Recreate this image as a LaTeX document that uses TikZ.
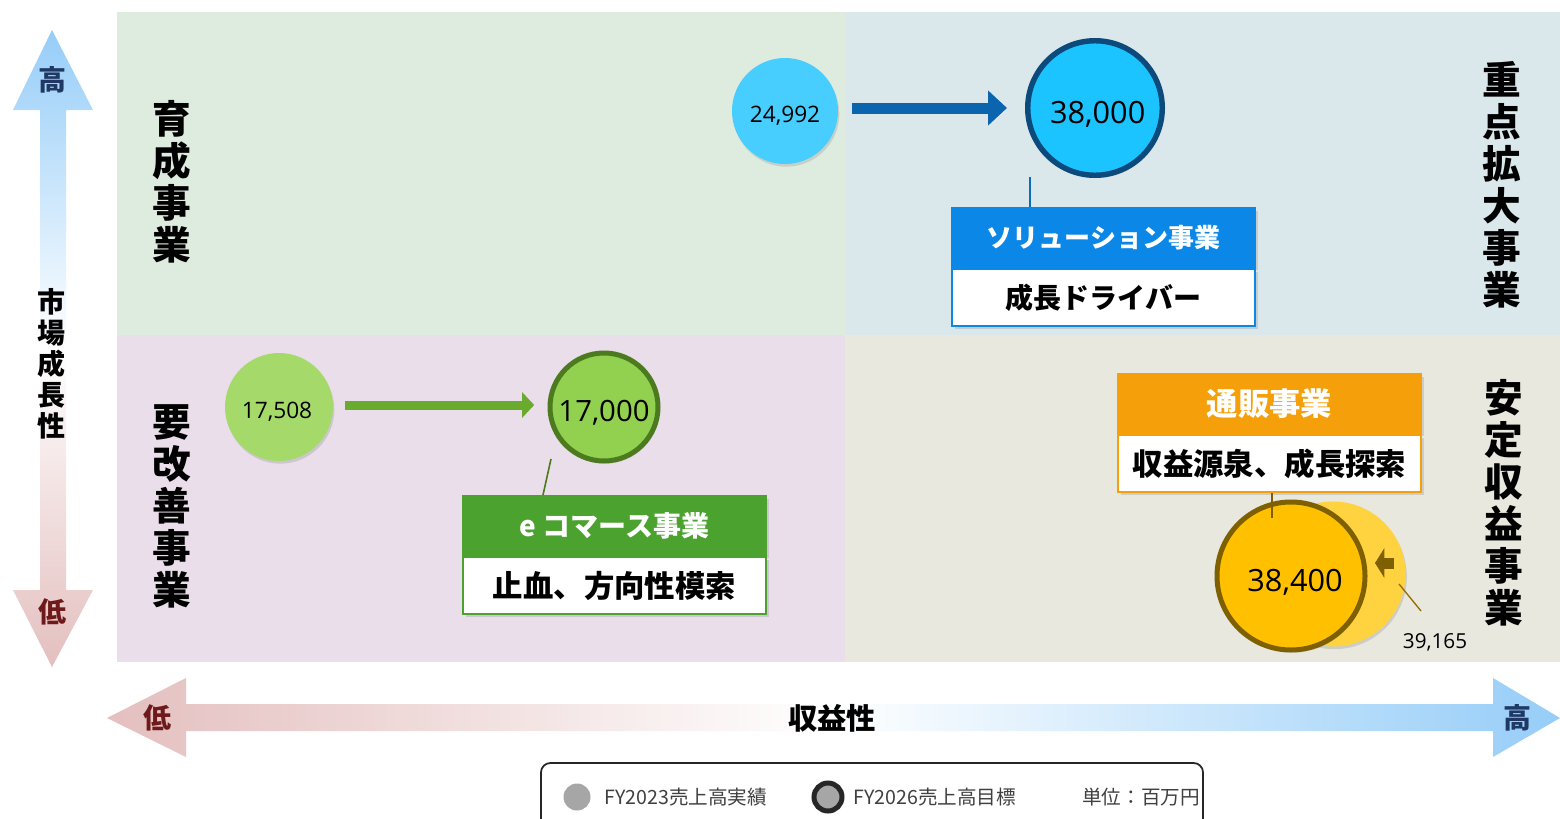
\documentclass[tikz,border=0pt]{standalone}
\usepackage{fontspec}
\setmainfont{Noto Sans CJK JP}
\newfontfamily\numf{Open Sans}
\usetikzlibrary{shadows,arrows.meta,calc}
\definecolor{qtl}{HTML}{DEEBDF}
\definecolor{qtr}{HTML}{DAE8EC}
\definecolor{qbl}{HTML}{E9DEE9}
\definecolor{qbr}{HTML}{E8E8DF}
\definecolor{axblue}{HTML}{96CDF8}
\definecolor{axpink}{HTML}{E4BFBF}
\definecolor{navy}{HTML}{1F3864}
\definecolor{darkred}{HTML}{6E1A1A}
\definecolor{solblue}{HTML}{0B87E8}
\definecolor{ecgreen}{HTML}{4CA22F}
\definecolor{orng}{HTML}{F5A00B}
\definecolor{arrblue}{HTML}{0A64AE}
\definecolor{arrgreen}{HTML}{6AAA2E}
\definecolor{cA}{HTML}{47CEFF}
\definecolor{cB}{HTML}{1BC3FF}
\definecolor{cBd}{HTML}{0C4A7C}
\definecolor{cC}{HTML}{A5DA6B}
\definecolor{cD}{HTML}{92D050}
\definecolor{cDd}{HTML}{4C7A1E}
\definecolor{cE}{HTML}{FFD33F}
\definecolor{cF}{HTML}{FFC000}
\definecolor{cFd}{HTML}{7F6000}
\definecolor{legtxt}{HTML}{404040}
\tikzset{
  quadlabel/.style={align=center, font=\bfseries\fontsize{29pt}{31.5pt}\selectfont, inner sep=0pt},
  axlabel/.style={font=\bfseries\fontsize{21pt}{23pt}\selectfont, inner sep=0pt},
  bub/.style={circle, inner sep=0pt, text depth=0pt, drop shadow={shadow xshift=1pt, shadow yshift=-2pt, opacity=0.25}},
  hdr/.style={rectangle, anchor=north west, minimum width=227.25pt, minimum height=44.25pt, inner sep=0pt,
     text=white, font=\bfseries\fontsize{21pt}{24pt}\selectfont, line width=1.5pt,
     drop shadow={shadow xshift=2pt, shadow yshift=-2pt, opacity=0.25}},
  bdy/.style={rectangle, anchor=north west, fill=white, minimum width=227.25pt, minimum height=43pt, inner sep=0pt,
     font=\bfseries\fontsize{22.8pt}{25pt}\selectfont, line width=1.5pt,
     drop shadow={shadow xshift=2pt, shadow yshift=-2pt, opacity=0.25}},
  legtext/.style={anchor=west, inner sep=0pt, text=legtxt, font=\fontsize{14.7pt}{16pt}\selectfont}
}
\begin{document}
\begin{tikzpicture}[x=0.75pt, y=-0.75pt]
\useasboundingbox (0,0) rectangle (1560,818);
\fill[white] (0,0) rectangle (1560,818);
% quadrants
\fill[qtl] (117,12) rectangle (845,335);
\fill[qtr] (845,12) rectangle (1560,335);
\fill[qbl] (117,335) rectangle (845,662);
\fill[qbr] (845,335) rectangle (1560,662);
% vertical axis arrow
\shade[top color=axblue, bottom color=axpink, middle color=white]
  (52,30) -- (93,110) -- (66,110) -- (66,590) -- (93,590) -- (52,667) -- (13,590) -- (40,590) -- (40,110) -- (13,110) -- cycle;
\node[axlabel, text=navy] (vhi) at (52,80) {高};
\node[axlabel, text=darkred] (vlo) at (52,612) {低};
\node[align=center, inner sep=0pt, font=\bfseries\fontsize{21pt}{23.25pt}\selectfont] (vlab) at (51,364) {市\\場\\成\\長\\性};
% horizontal axis arrow
\shade[left color=axpink, right color=axblue, middle color=white]
  (107,718) -- (186,678) -- (186,704) -- (1493,704) -- (1493,678) -- (1560,718) -- (1493,757) -- (1493,731) -- (186,731) -- (186,757) -- cycle;
\node[axlabel, text=darkred] (hlo) at (157,718) {低};
\node[axlabel, text=navy] (hhi) at (1517,718) {高};
\node[axlabel, font=\bfseries\fontsize{22pt}{24pt}\selectfont] (hlab) at (832,718) {収益性};
% quadrant labels
\node[quadlabel] (q1) at (172,182) {育\\成\\事\\業};
\node[quadlabel] (q2) at (1502,185) {重\\点\\拡\\大\\事\\業};
\node[quadlabel] (q3) at (172,506) {要\\改\\善\\事\\業};
\node[quadlabel] (q4) at (1504,503) {安\\定\\収\\益\\事\\業};
% solution business
\node[bub, fill=cA, minimum size=79.5pt, text height=17pt, font=\numf\fontsize{17pt}{19pt}\selectfont] (c1) at (785,111) {24,992};
\node[bub, fill=cB, draw=cBd, line width=4.1pt, minimum size=100.9pt, text height=23pt, font=\numf\fontsize{23pt}{25pt}\selectfont] (c2) at (1095,108) {\hspace*{4pt}38,000};
\draw[arrblue, line width=8.25pt, -{Triangle[length=14.25pt, width=25.5pt]}, shorten <=10.5pt, shorten >=13.5pt] (c1.east |- c2.center) -- (c2.west);
\node[hdr, fill=solblue, draw=solblue, font=\bfseries\fontsize{19.5pt}{22pt}\selectfont] (solh) at (951,207) {ソリューション事業};
\node[bdy, draw=solblue, font=\bfseries\fontsize{21pt}{24pt}\selectfont] (solb) at (solh.south west) {成長ドライバー};
\coordinate (sl) at (1030,177);
\draw[solblue!80!black, line width=1.2pt] (sl) -- (sl |- solh.north);
% e-commerce
\node[bub, fill=cC, minimum size=81pt, text height=17pt, font=\numf\fontsize{17pt}{19pt}\selectfont] (c3) at (279,407) {17,508\hspace*{3pt}};
\node[bub, fill=cD, draw=cDd, line width=3.75pt, minimum size=81pt, text height=22pt, font=\numf\fontsize{22pt}{24pt}\selectfont] (c4) at (604,407) {17,000};
\draw[arrgreen, line width=6.75pt, -{Triangle[length=9pt, width=18.75pt]}, shorten <=9pt, shorten >=10pt] (c3.east |- 0,405) -- (c4.west |- 0,405);
\node[hdr, fill=ecgreen, draw=ecgreen] (ech) at (462,495) {e コマース事業};
\node[bdy, draw=ecgreen] (ecb) at (ech.south west) {止血、方向性模索};
\coordinate (el) at (551,459);
\draw[cDd, line width=1.2pt] (el) -- ($(ech.north west)+(81,0)$);
% mail order
\node[hdr, fill=orng, draw=orng, font=\bfseries\fontsize{23.5pt}{26pt}\selectfont] (orh) at (1117,373) {通販事業};
\node[bdy, draw=orng] (orb) at (orh.south west) {収益源泉、成長探索};
\node[bub, fill=cE, minimum size=108.75pt] (c5) at (1333,574) {};
\node[bub, fill=cF, draw=cFd, line width=3.75pt, minimum size=111pt, text height=23pt, font=\numf\fontsize{23pt}{25pt}\selectfont] (c6) at (1291,576) {\hspace*{6pt}38,400};
\coordinate (ol) at (1272,518);
\draw[cFd, line width=1pt] (ol |- orb.south) -- (ol);
\coordinate (sa1) at (1394,563);
\coordinate (sa2) at (1375,563);
\draw[cFd, line width=8.25pt, -{Triangle[length=7pt, width=22pt]}] (sa1) -- (sa2);
\node[inner sep=0pt, font=\numf\fontsize{15.5pt}{17pt}\selectfont] (t39) at (1435,642) {39,165};
\coordinate (g1) at (1399,584);
\coordinate (g2) at (1421,611);
\draw[cFd!80!orng, line width=1pt] (g1) -- (g2);
% legend
\draw[black!85, line width=1.3pt, rounded corners=7pt] (541,763) rectangle (1203,840);
\node[circle, inner sep=0pt, fill=black!35, minimum size=20.25pt] (l1) at (577,797) {};
\node[legtext] (lt1) at (604,797) {FY2023売上高実績};
\node[circle, inner sep=0pt, fill=black!35, draw=black!85, line width=3.75pt, minimum size=21pt] (l2) at (828,797) {};
\node[legtext] (lt2) at (853,797) {FY2026売上高目標};
\node[legtext] (lt3) at (1082,797) {単位：百万円};
\end{tikzpicture}
\end{document}
